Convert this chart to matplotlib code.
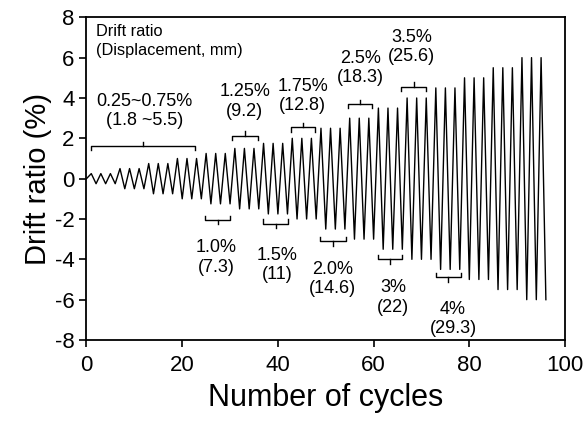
import matplotlib
matplotlib.use('Agg')
import matplotlib.pyplot as plt

plt.rcParams['font.family'] = ['Liberation Sans', 'DejaVu Sans']
plt.rcParams['axes.unicode_minus'] = False

# drift ratio amplitude of each loading step (%), three cycles per step
amplitudes = [0.25, 0.5, 0.75, 1.0, 1.25, 1.5, 1.75, 2.0,
              2.5, 3.0, 3.5, 4.0, 4.5, 5.0, 5.5, 6.0]
cycles_per_step = 3

# step labels: drift ratio and displacement (mm)
step_labels = ['0.25~0.75%\n(1.8 ~5.5)', '1.0%\n(7.3)', '1.25%\n(9.2)', '1.5%\n(11)',
               '1.75%\n(12.8)', '2.0%\n(14.6)', '2.5%\n(18.3)', '3%\n(22)',
               '3.5%\n(25.6)', '4%\n(29.3)']

# build the loading history
drift = [0.0]
for a in amplitudes:
    for c in range(cycles_per_step):
        drift.append(a)
        drift.append(-a)
cycle = list(range(len(drift)))

fig = plt.figure(figsize=(5.86, 4.22), dpi=100)
ax = fig.add_axes([0.1476, 0.1943, 0.8166, 0.7647])

ax.plot(cycle, drift, color='black', lw=1.0)

# brackets: (x0, x1, y, up)
brackets = [(0.9, 22.7, 1.62, True), (24.8, 30.0, -2.05, False),
            (30.5, 35.9, 2.12, True), (36.9, 42.1, -2.23, False),
            (42.8, 47.8, 2.55, True), (48.9, 54.2, -3.1, False),
            (54.6, 59.6, 3.7, True), (60.9, 66.0, -4.0, False),
            (65.7, 71.0, 4.55, True), (73.0, 78.3, -4.9, False)]
# label centres
label_pos = [(12.2, 3.35), (27.1, -3.9), (33.1, 3.83), (39.8, -4.28),
             (45.2, 4.1), (51.5, -4.98), (57.2, 5.48), (64.1, -5.89),
             (68.0, 6.52), (76.6, -6.95)]

h = 0.22
for (x0, x1, yb, up), txt, (tx, ty) in zip(brackets, step_labels, label_pos):
    s = 1 if up else -1
    xm = (x0 + x1) / 2
    ax.plot([x0, x0, x1, x1], [yb - s * h, yb, yb, yb - s * h], color='black', lw=1.0)
    ax.plot([xm, xm], [yb, yb + s * h], color='black', lw=1.0)
    ax.text(tx, ty, txt, ha='center', va='center', fontsize=13, linespacing=1.2)

ax.text(2.0, 6.82, 'Drift ratio\n(Displacement, mm)', ha='left', va='center',
        fontsize=11.8, linespacing=1.35)

ax.set_xlim(0, 100)
ax.set_ylim(-8, 8)
ax.set_xticks(range(0, 101, 20))
ax.set_yticks(range(-8, 9, 2))
ax.tick_params(labelsize=16, length=5, width=1.2, direction='out')
ax.tick_params(axis='x', pad=6)
for sp in ax.spines.values():
    sp.set_linewidth(1.3)

ax.set_xlabel('Number of cycles', fontsize=22, labelpad=5)
ax.set_ylabel('Drift ratio (%)', fontsize=21, labelpad=2)

fig.savefig('out.png', dpi=100)
